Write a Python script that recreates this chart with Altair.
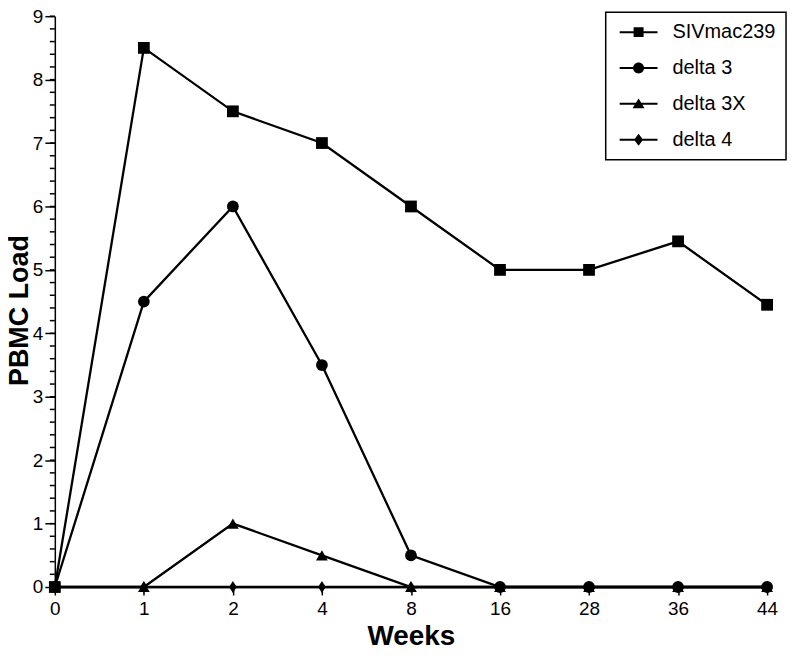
import altair as alt
import pandas as pd

weeks = ["0", "1", "2", "4", "8", "16", "28", "36", "44"]
series_names = ["SIVmac239", "delta 3", "delta 3X", "delta 4"]
siv = [0, 8.5, 7.5, 7.0, 6.0, 5.0, 5.0, 5.45, 4.45]
d3 = [0, 4.5, 6.0, 3.5, 0.5, 0, 0, 0, 0]
d3x = [0, 0, 1.0, 0.5, 0, 0, 0, 0, 0]
d4 = [0, 0, 0, 0, 0, 0, 0, 0, 0]
y_major = list(range(10))
y_minor = [round(i * 0.2, 1) for i in range(46)]

values = {"SIVmac239": siv, "delta 3": d3, "delta 3X": d3x, "delta 4": d4}
draw_order = ["delta 4", "delta 3X", "delta 3", "SIVmac239"]
rows = [
    {"series": s, "series_legend": s, "week": w, "value": v}
    for s in draw_order
    for w, v in zip(weeks, values[s])
]
df = pd.DataFrame(rows)
df_yminor = pd.DataFrame({"value": y_minor})

plot_shapes = ["square", "circle", "triangle-up", "M0,-1L0.65,0L0,1L-0.65,0Z"]
bar = "M-1.9,-0.1H1.9V0.1H-1.9Z "
legend_shapes = [
    bar + "M-0.5,-0.5H0.5V0.5H-0.5Z",
    bar + "M0.55,0A0.55,0.55 0 1,1 -0.55,0A0.55,0.55 0 1,1 0.55,0Z",
    bar + "M0,-0.55L0.6,0.45L-0.6,0.45Z",
    bar + "M0,-0.6L0.45,0L0,0.6L-0.45,0Z",
]

FONT = "Liberation Sans"
W, H = 715, 573
y_scale = alt.Scale(domain=[0, 9], nice=False)
x_scale = alt.Scale(type="point", padding=0)

x_enc = alt.X(
    "week:O",
    sort=weeks,
    scale=x_scale,
    axis=alt.Axis(
        title="Weeks",
        labelAngle=0,
        ticks=True,
        tickSize=8,
        tickWidth=1.5,
        tickColor="#000000",
        tickOpacity=1,
        domainColor="#000000",
        domainWidth=1.5,
        zindex=0,
        labelFontSize=19,
        labelFont=FONT,
        labelColor="black",
        labelPadding=5,
        titleFont=FONT,
        titleFontSize=28,
        titleFontWeight="bold",
        titleColor="black",
        titlePadding=4,
        grid=False,
    ),
)
y_enc = alt.Y(
    "value:Q",
    scale=y_scale,
    axis=alt.Axis(
        title="PBMC Load",
        values=y_major,
        format="d",
        ticks=True,
        tickSize=10,
        tickWidth=1.5,
        tickColor="#000000",
        tickOpacity=1,
        domainColor="#000000",
        domainWidth=1.5,
        zindex=0,
        labelOverlap=False,
        labelFontSize=19,
        labelFont=FONT,
        labelColor="black",
        labelPadding=2,
        titleFont=FONT,
        titleFontSize=27,
        titleFontWeight="bold",
        titleColor="black",
        titleAngle=270,
        titleX=-27,
        titleY=295,
        titleAlign="center",
        titleBaseline="alphabetic",
        grid=False,
    ),
)

base = alt.Chart(df)

lines = base.mark_line(color="black", strokeWidth=2.3).encode(
    x=x_enc, y=y_enc, detail="series:N"
)

points = base.mark_point(filled=True, color="black", opacity=1, size=140).encode(
    x=x_enc,
    y=y_enc,
    shape=alt.Shape(
        "series:N",
        scale=alt.Scale(domain=series_names, range=plot_shapes),
        legend=None,
    ),
)

legend_layer = base.mark_point(filled=True, color="black", opacity=0, size=400).encode(
    x=x_enc,
    y=y_enc,
    shape=alt.Shape(
        "series_legend:N",
        scale=alt.Scale(domain=series_names, range=legend_shapes),
        legend=alt.Legend(
            title=None,
            orient="none",
            legendX=553,
            legendY=-4,
            padding=10,
            symbolSize=400,
            symbolOffset=13,
            symbolOpacity=1,
            symbolFillColor="black",
            symbolStrokeWidth=0,
            labelOffset=24,
            labelFont=FONT,
            labelFontSize=20,
            labelColor="black",
            rowPadding=16,
            strokeColor="black",
            fillColor="white",
        ),
    ),
)

y_minor_ticks = alt.Chart(df_yminor).mark_rule(color="black", strokeWidth=1.5).encode(
    y=y_enc,
    x=alt.value(-5),
    x2=alt.value(0),
)

chart = (
    alt.layer(lines, y_minor_ticks, points, legend_layer)
    .resolve_scale(shape="independent")
    .properties(
        width=W,
        height=H,
        autosize=alt.AutoSizeParams(type="none"),
        padding={"left": 47, "top": 7, "right": 25, "bottom": 62},
        background="white",
    )
    .configure_view(stroke=None)
    .configure_legend(strokeWidth=1.5)
)

chart.save("out.html", embed_options={"renderer": "svg", "actions": False})
